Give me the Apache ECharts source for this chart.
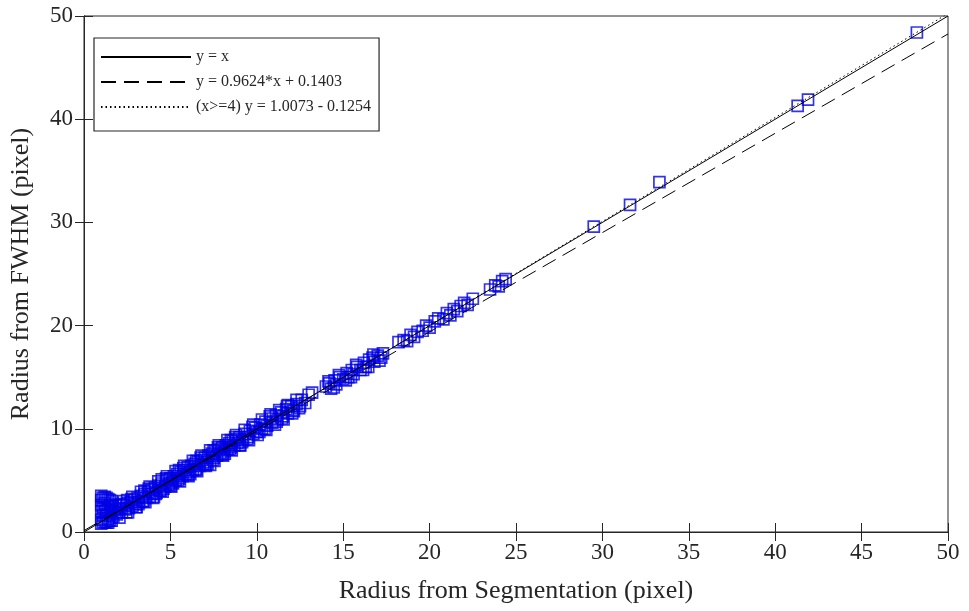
<!DOCTYPE html>
<html>
<head>
<meta charset="utf-8">
<script src="https://cdn.jsdelivr.net/npm/echarts@6/dist/echarts.min.js"></script>
<style>html,body{margin:0;padding:0;background:#fff;}#c{width:969px;height:611px;}</style>
</head>
<body>
<div id="c"></div>
<script>
// ---- data ----
var xTicks = [0, 5, 10, 15, 20, 25, 30, 35, 40, 45, 50];
var yTicks = [0, 10, 20, 30, 40, 50];

// measured points: radius from segmentation (x) vs radius from FWHM (y)
var segX = [
  1.0,1.0,1.0,1.0,1.0,1.0,1.1,1.1,1.1,1.2,1.2,1.3,1.3,1.4,1.5,1.5,1.6,1.6,1.7,1.8,1.9,2.0,2.0,
  1.2,1.3,1.4,1.5,1.3,1.4,1.5,1.2,1.1,1.6,1.6,1.4,
  2.1,2.2,2.3,2.4,2.5,2.6,2.7,2.8,2.9,3.0,3.1,3.2,3.3,3.4,3.5,3.6,3.7,3.8,3.9,4.0,
  4.1,4.2,4.3,4.4,4.5,4.6,4.7,4.8,4.9,5.0,5.1,5.2,5.3,5.4,5.5,5.6,5.7,5.8,5.9,6.0,
  6.1,6.2,6.3,6.4,6.5,6.6,6.7,6.8,6.9,7.0,7.1,7.2,7.3,7.4,7.5,7.6,7.7,7.8,7.9,8.0,
  8.1,8.2,8.3,8.4,8.5,8.6,8.7,8.8,8.9,9.0,9.2,9.3,9.5,9.6,9.8,9.9,10.0,
  10.2,10.3,10.5,10.6,10.8,10.9,11.1,11.2,11.4,11.5,11.7,11.8,12.0,12.1,12.3,12.5,12.6,12.8,13.0,13.2,
  14.0,14.2,14.3,14.5,14.6,14.8,15.0,15.2,15.3,15.5,15.6,15.8,16.0,16.2,16.3,16.5,16.7,16.8,17.0,17.2,17.3,
  18.2,18.5,18.7,18.9,19.1,19.3,19.6,19.8,20.0,20.3,20.5,20.8,21.0,21.2,21.4,21.6,21.8,22.0,22.2,22.5,
  23.5,23.8,24.0,24.2,24.4,
  2.5,3.0,3.5,4.0,4.5,5.0,5.5,6.0,6.5,7.0,7.5,8.0,8.5,9.0,
  1.8,2.05,2.3,2.55,2.8,3.05,3.3,3.55,3.8,4.05,4.3,4.55,4.8,5.05,5.3,5.55,5.8,6.05,6.3,6.55,
  6.8,7.05,7.3,7.55,7.8,8.05,8.3,8.55,8.8,9.05,9.3,9.55,9.8,10.05,10.3,10.55,10.8,11.05,11.3,11.55,11.8,12.05,12.3,
  2.15,2.45,2.75,3.15,3.45,3.75,4.15,4.45,4.75,5.15,5.45,5.75,6.15,6.45,6.75,7.15,7.45,7.75,8.15,8.45,8.75,
  9.15,9.45,9.75,10.15,10.45,10.75,11.15,11.45,11.75,12.15,12.45,14.15,14.45,14.75,15.15,15.45,15.75,16.15,16.45,16.75,17.1,
  29.5,31.6,33.3,41.3,41.9,48.2
];
var fwhmY = [
  3.5,3.1,2.6,2.0,1.2,0.8,3.3,2.4,1.6,1.0,2.8,0.9,2.1,1.3,3.1,1.8,2.5,1.1,1.5,2.2,1.7,2.6,1.9,
  3.4,3.3,3.2,2.6,1.6,2.4,1.1,2.0,0.9,3.0,2.0,0.9,
  2.3,1.9,2.6,2.2,2.8,2.3,2.9,2.5,3.1,2.7,3.3,2.9,3.5,3.0,3.7,3.3,3.9,3.4,4.1,3.7,
  4.3,3.8,4.5,4.0,4.7,4.2,4.4,5.0,4.6,5.2,4.8,5.4,5.0,5.6,5.2,5.8,5.4,6.0,5.6,6.3,
  5.8,6.4,6.0,6.6,6.1,6.8,6.4,7.0,6.6,7.2,6.8,7.4,6.5,7.6,7.2,7.8,7.4,8.0,7.6,8.2,
  7.8,8.4,8.0,8.6,8.2,8.8,8.4,9.0,8.6,9.2,8.9,9.5,9.2,9.8,9.5,10.1,9.7,
  10.4,10.0,10.7,10.3,11.0,10.6,11.3,10.9,11.6,11.2,11.9,11.5,12.2,11.8,12.4,12.2,12.8,12.5,13.3,13.5,
  14.1,14.4,13.9,14.7,14.3,15.0,14.8,15.4,15.0,15.7,15.3,16.0,15.7,16.4,16.0,16.7,16.9,16.5,17.1,16.9,17.3,
  18.4,18.6,18.5,19.1,18.9,19.4,19.5,20.0,19.8,20.4,20.7,20.6,21.2,21.0,21.6,21.4,21.9,22.2,22.0,22.6,
  23.5,23.9,23.8,24.3,24.5,
  3.1,2.4,4.0,3.3,5.1,4.5,6.0,5.5,6.9,6.5,7.9,7.5,8.9,8.4,
  2.6,1.4,3.0,1.9,3.4,2.4,3.9,2.9,4.4,3.4,4.9,3.9,5.4,4.4,5.9,4.9,6.4,5.4,6.9,5.9,
  7.4,6.4,7.9,6.9,8.4,7.4,8.9,7.9,9.4,8.4,9.9,8.9,10.4,9.4,10.9,9.9,11.4,10.4,11.8,10.9,12.3,11.5,12.8,
  2.7,1.9,3.2,2.7,3.0,4.2,3.7,4.0,5.2,4.7,5.0,6.2,5.6,6.0,7.2,6.6,7.0,8.2,7.6,8.0,9.2,
  8.7,9.0,10.2,9.7,10.0,11.2,10.7,11.0,12.2,11.7,12.0,14.6,14.0,15.2,14.7,15.0,16.2,15.7,16.0,17.2,16.6,
  29.6,31.7,33.9,41.3,41.9,48.4
];

// reference / fit lines (end points from the legend equations)
var lineNames = ['y = x', 'y = 0.9624*x + 0.1403', '(x>=4) y = 1.0073 - 0.1254'];
var identityX = [0, 50],  identityY = [0, 50];
var fitAllX = [0, 50],    fitAllY = [0.1403, 48.2603];
var fitBigX = [4, 50],    fitBigY = [3.9038, 50.2396];

// ---- build ----
function pairs(xs, ys) { return xs.map(function (x, i) { return [x, ys[i]]; }); }

var chart = echarts.init(document.getElementById('c'), null, { renderer: 'canvas' });
var txt = '#262626';
var font = 'Liberation Serif';

chart.setOption({
  animation: false,
  backgroundColor: '#ffffff',
  textStyle: { fontFamily: font },
  grid: { left: 84, right: 21, top: 16, bottom: 79, show: true, borderColor: txt, borderWidth: 1 },
  legend: {
    data: lineNames,
    orient: 'vertical',
    left: 94, top: 38,
    itemWidth: 90, itemHeight: 17, itemGap: 9,
    padding: [11, 8, 16, 6],
    borderColor: txt, borderWidth: 1.2, backgroundColor: '#fff',
    itemStyle: { opacity: 0 },
    textStyle: { fontFamily: font, fontSize: 16, color: txt },
    selectedMode: false
  },
  xAxis: [{
    type: 'value', min: 0, max: 50, interval: 5,
    name: 'Radius from Segmentation (pixel)', nameLocation: 'middle', nameGap: 46,
    nameTextStyle: { fontFamily: font, fontSize: 26, color: txt },
    axisLine: { lineStyle: { color: txt } },
    axisTick: { inside: true, length: 9, lineStyle: { color: txt } },
    axisLabel: { fontFamily: font, fontSize: 23, color: txt, margin: 9 },
    splitLine: { show: false }
  }, {
    type: 'value', min: 0, max: 50, interval: 5, position: 'top',
    axisLine: { lineStyle: { color: txt } },
    axisTick: { inside: true, length: 9, lineStyle: { color: txt } },
    axisLabel: { show: false }, splitLine: { show: false }
  }],
  yAxis: [{
    type: 'value', min: 0, max: 50, interval: 10,
    name: 'Radius from FWHM (pixel)', nameLocation: 'middle', nameGap: 50, nameRotate: 90,
    nameTextStyle: { fontFamily: font, fontSize: 26, color: txt },
    axisLine: { lineStyle: { color: txt } },
    axisTick: { inside: true, length: 9, lineStyle: { color: txt } },
    axisLabel: { fontFamily: font, fontSize: 23, color: txt, margin: 11 },
    splitLine: { show: false }
  }, {
    type: 'value', min: 0, max: 50, interval: 10, position: 'right',
    axisLine: { lineStyle: { color: txt } },
    axisTick: { inside: true, length: 9, lineStyle: { color: txt } },
    axisLabel: { show: false }, splitLine: { show: false }
  }],
  series: [
    {
      type: 'scatter', name: 'data', data: pairs(segX, fwhmY),
      symbol: 'rect', symbolSize: 11, z: 2,
      itemStyle: { color: 'rgba(0,0,0,0)', borderColor: '#0000e6', borderWidth: 1.7 }
    },
    {
      type: 'line', name: lineNames[0], data: pairs(identityX, identityY), symbol: 'none', z: 3,
      lineStyle: { color: '#000', width: 1, type: 'solid' }, itemStyle: { color: '#000' }
    },
    {
      type: 'line', name: lineNames[1], data: pairs(fitAllX, fitAllY), symbol: 'none', z: 3,
      lineStyle: { color: '#000', width: 1, type: [15, 8] }, itemStyle: { color: '#000' }
    },
    {
      type: 'line', name: lineNames[2], data: pairs(fitBigX, fitBigY), symbol: 'none', z: 3,
      lineStyle: { color: '#000', width: 1, type: [1.5, 3] }, itemStyle: { color: '#000' }
    }
  ]
});
</script>
</body>
</html>
